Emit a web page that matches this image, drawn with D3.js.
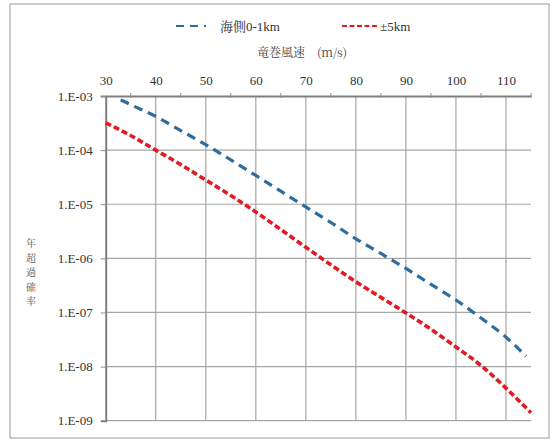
<!DOCTYPE html>
<html><head><meta charset="utf-8">
<script src="https://cdn.jsdelivr.net/npm/d3@7"></script>
<style>body{margin:0;background:#fff}</style>
</head><body><svg id="c" width="553" height="440"></svg>
<script>
const seriesNames = ["海側0-1km", "±5km"];
const blueSpeed = [33,35,40,45,50,55,60,65,70,75,80,85,90,95,100,105,110,114];
const blueProb = [8.5e-4,6.9e-4,4.2e-4,2.3e-4,1.26e-4,6.6e-5,3.4e-5,1.74e-5,8.9e-6,4.6e-6,2.3e-6,1.23e-6,6.5e-7,3.3e-7,1.7e-7,7.9e-8,3.5e-8,1.55e-8];
const redSpeed = [30,35,40,45,50,55,60,65,70,75,80,85,90,95,100,105,110,115];
const redProb = [3.2e-4,1.86e-4,1.0e-4,5.4e-5,2.8e-5,1.45e-5,7.2e-6,3.4e-6,1.6e-6,7.6e-7,3.7e-7,1.9e-7,9.8e-8,4.9e-8,2.3e-8,1.05e-8,4.0e-9,1.4e-9];
const xTicks = [30,40,50,60,70,80,90,100,110];
const xMinor = [35,45,55,65,75,85,95,105,115];
const yTicks = [1e-3,1e-4,1e-5,1e-6,1e-7,1e-8,1e-9];
const yTickLabels = ["1.E-03","1.E-04","1.E-05","1.E-06","1.E-07","1.E-08","1.E-09"];
const xTitle = "竜巻風速\u3000(m/s)";
const yTitle = "年超過確率";

const svg = d3.select("#c");
const L = 105.7, R = 531, T = 96, B = 420.7;
const x = d3.scaleLinear().domain([30,115]).range([L,R]);
const y = d3.scaleLog().domain([1e-3,1e-9]).range([T,B]);
const serif = "'Liberation Serif', 'Noto Serif CJK JP', serif";
const cjk = "'Noto Serif CJK JP', 'Liberation Serif', serif";

svg.append("rect").attr("x",10).attr("y",4).attr("width",539).attr("height",434)
  .attr("fill","#fff").attr("stroke","#9a9a9a").attr("stroke-width",1);

// gridlines
svg.append("g").selectAll("line").data(xTicks.slice(1)).join("line")
  .attr("x1",d=>x(d)).attr("x2",d=>x(d)).attr("y1",T).attr("y2",B)
  .attr("stroke","#a6a6a6").attr("stroke-width",1.2);
svg.append("g").selectAll("line").data(yTicks.slice(1)).join("line")
  .attr("x1",L).attr("x2",R).attr("y1",d=>y(d)).attr("y2",d=>y(d))
  .attr("stroke","#a6a6a6").attr("stroke-width",1.2);

// top axis
const xa = svg.append("g").attr("transform",`translate(0,${T})`)
  .call(d3.axisTop(x).tickValues(xTicks).tickSize(0).tickPadding(11).tickFormat(d3.format("d")));
xa.attr("font-family",serif).attr("font-size",13);
xa.select(".domain").attr("stroke","#7f7f7f").attr("stroke-width",2);
xa.selectAll("text").style("font-family",serif).style("font-size","13px").attr("fill","#333");
svg.append("g").selectAll("line").data(xMinor).join("line")
  .attr("x1",d=>x(d)).attr("x2",d=>x(d)).attr("y1",T-3).attr("y2",T+2)
  .attr("stroke","#8f8f8f").attr("stroke-width",1);

// left axis
const ya = svg.append("g").attr("transform",`translate(${L},0)`)
  .call(d3.axisLeft(y).tickValues(yTicks).tickSize(5).tickPadding(8).tickFormat((d,i)=>yTickLabels[i]));
ya.attr("font-family",serif).attr("font-size",13);
ya.select(".domain").attr("stroke","#7f7f7f").attr("stroke-width",2);
ya.selectAll(".tick line").attr("stroke","#8f8f8f");
ya.selectAll("text").style("font-family",serif).style("font-size","13px").attr("fill","#333");

// lines
const line = d3.line().x(d=>x(d[0])).y(d=>y(d[1])).curve(d3.curveMonotoneX);
svg.append("path").datum(d3.zip(blueSpeed,blueProb)).attr("d",line)
  .attr("fill","none").attr("stroke","#2f6c9e").attr("stroke-width",3.2).attr("stroke-dasharray","9,6");
svg.append("path").datum(d3.zip(redSpeed,redProb)).attr("d",line)
  .attr("fill","none").attr("stroke","#e01b24").attr("stroke-width",3.6).attr("stroke-dasharray","6,3");

// legend
svg.append("line").attr("x1",176).attr("x2",206).attr("y1",26).attr("y2",26)
  .attr("stroke","#2f6c9e").attr("stroke-width",2).attr("stroke-dasharray","8,6");
svg.append("text").attr("x",220).attr("y",31).text(seriesNames[0])
  .style("font-family",serif).style("font-size","13px").attr("fill","#333");
svg.append("line").attr("x1",342).attr("x2",378).attr("y1",26).attr("y2",26)
  .attr("stroke","#e01b24").attr("stroke-width",2).attr("stroke-dasharray","5,2.5");
svg.append("text").attr("x",380).attr("y",31).text(seriesNames[1])
  .style("font-family",serif).style("font-size","13px").attr("fill","#333");

// titles
svg.append("text").attr("x",257).attr("y",57).text(xTitle)
  .style("font-family",cjk).style("font-size","12px").attr("fill","#444");
const yt = svg.append("text").style("font-family",cjk).style("font-size","10px")
  .attr("fill","#555").attr("text-anchor","middle");
yt.selectAll("tspan").data(Array.from(yTitle)).join("tspan")
  .attr("x",31).attr("y",(d,i)=>247+i*14.5).text(d=>d);
</script></body></html>
